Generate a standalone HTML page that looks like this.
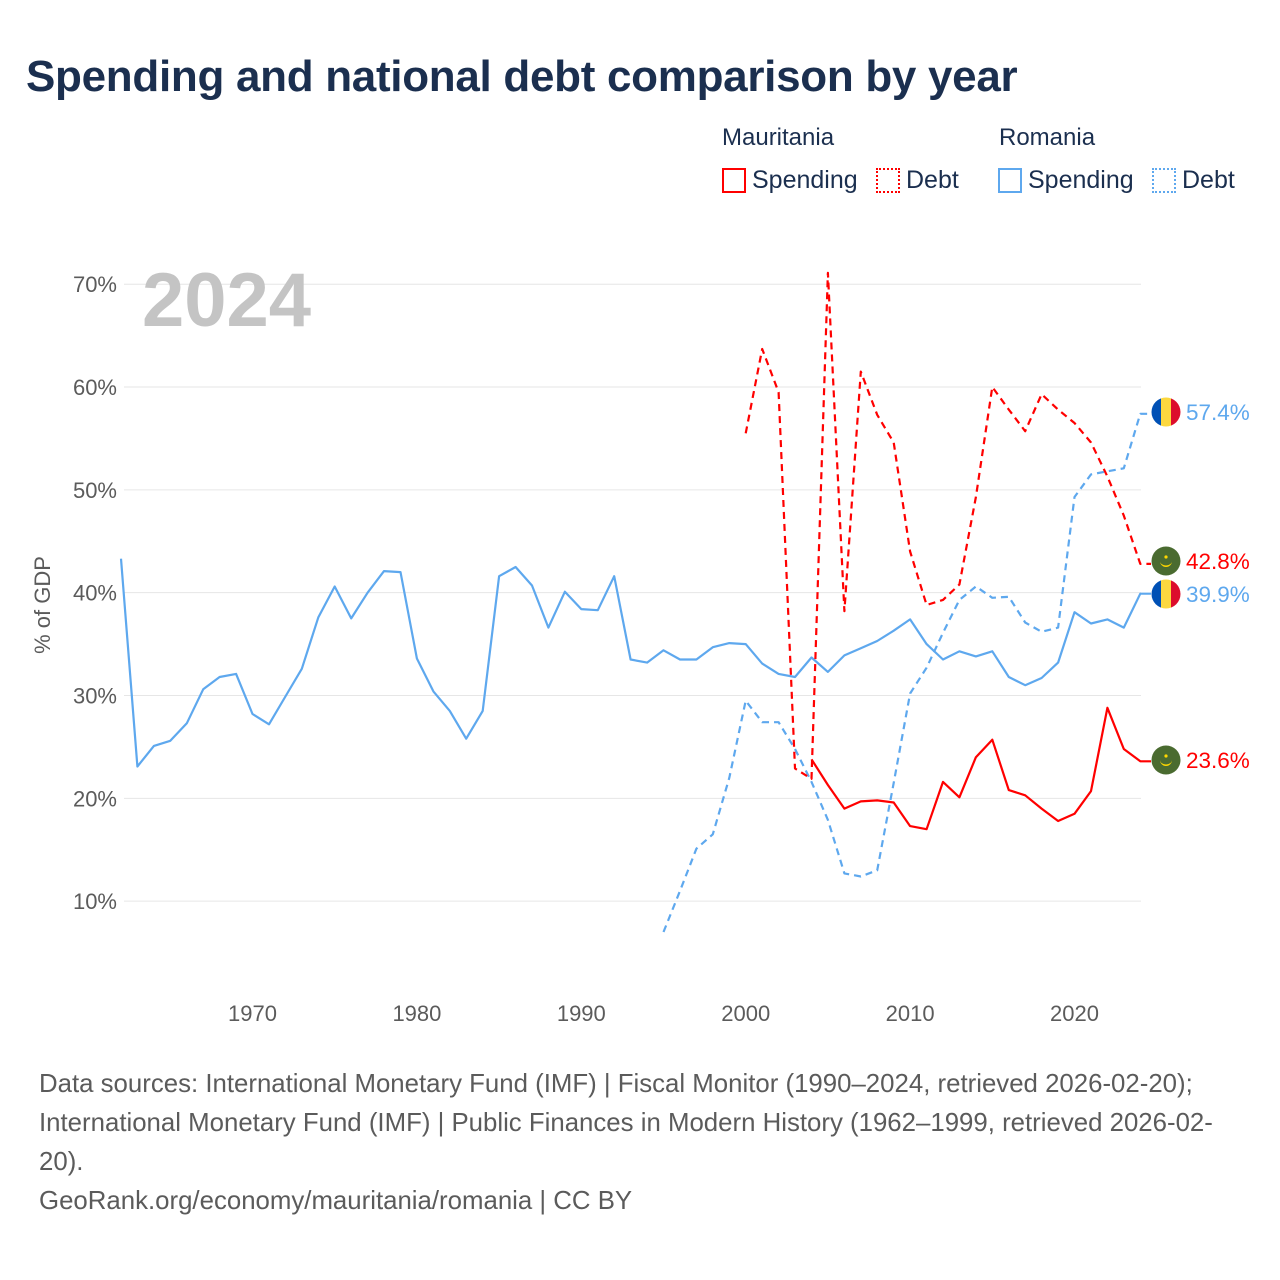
<!DOCTYPE html>
<html><head><meta charset="utf-8">
<style>
body{margin:0;background:#fff;width:1280px;height:1280px;overflow:hidden;font-family:"Liberation Sans",sans-serif;}
.t{position:absolute;white-space:nowrap;}
</style></head>
<body>
<div class="t" style="left:26px;top:52px;font-size:44px;font-weight:bold;color:#1b2f4f;letter-spacing:-0.3px;">Spending and national debt comparison by year</div>
<div class="t" style="left:722px;top:124px;font-size:24px;color:#1b2f4f;">Mauritania</div>
<div class="t" style="left:999px;top:124px;font-size:24px;color:#1b2f4f;">Romania</div>
<div class="t" style="left:722px;top:166px;font-size:25px;color:#1b2f4f;"><span style="display:inline-block;width:20px;height:21px;border:2px solid #f00;vertical-align:-5px;margin-right:6px;"></span>Spending</div>
<div class="t" style="left:876px;top:166px;font-size:25px;color:#1b2f4f;"><span style="display:inline-block;width:20px;height:21px;border:2px dotted #f00;vertical-align:-5px;margin-right:6px;"></span>Debt</div>
<div class="t" style="left:998px;top:166px;font-size:25px;color:#1b2f4f;"><span style="display:inline-block;width:20px;height:21px;border:2px solid #5ea8ee;vertical-align:-5px;margin-right:6px;"></span>Spending</div>
<div class="t" style="left:1152px;top:166px;font-size:25px;color:#1b2f4f;"><span style="display:inline-block;width:20px;height:21px;border:2px dotted #5ea8ee;vertical-align:-5px;margin-right:6px;"></span>Debt</div>

<svg id="chart" width="1280" height="1280" style="position:absolute;left:0;top:0;" xmlns="http://www.w3.org/2000/svg"></svg>

<div class="t" style="left:39px;top:1065px;font-size:25.8px;line-height:39px;color:#5b5b5b;">Data sources: International Monetary Fund (IMF) | Fiscal Monitor (1990–2024, retrieved 2026-02-20);<br>International Monetary Fund (IMF) | Public Finances in Modern History (1962–1999, retrieved 2026-02-<br>20).<br>GeoRank.org/economy/mauritania/romania | CC BY</div>

<script>
const yTicks = [10,20,30,40,50,60,70];
const xTicks = [1970,1980,1990,2000,2010,2020];
const roSpendYears = [1962,1963,1964,1965,1966,1967,1968,1969,1970,1971,1972,1973,1974,1975,1976,1977,1978,1979,1980,1981,1982,1983,1984,1985,1986,1987,1988,1989,1990,1991,1992,1993,1994,1995,1996,1997,1998,1999,2000,2001,2002,2003,2004,2005,2006,2007,2008,2009,2010,2011,2012,2013,2014,2015,2016,2017,2018,2019,2020,2021,2022,2023,2024];
const roSpend = [43.3,23.1,25.1,25.6,27.3,30.6,31.8,32.1,28.2,27.2,29.9,32.6,37.6,40.6,37.5,40.0,42.1,42.0,33.6,30.4,28.5,25.8,28.5,41.6,42.5,40.7,36.6,40.1,38.4,38.3,41.6,33.5,33.2,34.4,33.5,33.5,34.7,35.1,35.0,33.1,32.1,31.8,33.7,32.3,33.9,34.6,35.3,36.3,37.4,35.0,33.5,34.3,33.8,34.3,31.8,31.0,31.7,33.2,38.1,37.0,37.4,36.6,39.9];
const roDebtYears = [1995,1996,1997,1998,1999,2000,2001,2002,2003,2004,2005,2006,2007,2008,2009,2010,2011,2012,2013,2014,2015,2016,2017,2018,2019,2020,2021,2022,2023,2024];
const roDebt = [7.0,11.0,15.1,16.5,22.0,29.5,27.4,27.4,24.8,21.6,17.9,12.7,12.4,13.0,21.5,30.2,32.7,36.1,39.3,40.6,39.5,39.6,37.1,36.2,36.6,49.3,51.5,51.8,52.1,57.4];
const mrSpendYears = [2004,2005,2006,2007,2008,2009,2010,2011,2012,2013,2014,2015,2016,2017,2018,2019,2020,2021,2022,2023,2024];
const mrSpend = [23.8,21.3,19.0,19.7,19.8,19.6,17.3,17.0,21.6,20.1,24.0,25.7,20.8,20.3,19.0,17.8,18.5,20.7,28.8,24.8,23.6];
const mrDebtYears = [2000,2001,2002,2003,2004,2005,2006,2007,2008,2009,2010,2011,2012,2013,2014,2015,2016,2017,2018,2019,2020,2021,2022,2023,2024];
const mrDebt = [55.5,63.7,59.5,22.9,21.9,71.1,38.2,61.5,57.3,54.6,44.0,38.8,39.3,40.8,49.3,60.0,57.8,55.7,59.3,57.8,56.5,54.6,51.3,47.5,42.8];

const NS='http://www.w3.org/2000/svg';
const svg=document.getElementById('chart');
const X=yr=>121+(yr-1962)*16.44;
const Y=v=>1004-v*10.283;
function mk(tag,attrs,parent){const e=document.createElementNS(NS,tag);for(const k in attrs)e.setAttribute(k,attrs[k]);(parent||svg).appendChild(e);return e;}

yTicks.forEach(v=>{
  const g=mk('line',{x1:124,x2:1141,y1:Y(v),y2:Y(v),stroke:'#e6e6e6','stroke-width':1});
  
  
  const t=mk('text',{x:117,y:Y(v)+8,'text-anchor':'end','font-size':22,fill:'#5b5b5b','font-family':'Liberation Sans, sans-serif'});
  t.textContent=v+'%';
  
  
});
xTicks.forEach(yr=>{
  const t=mk('text',{x:X(yr),y:1021,'text-anchor':'middle','font-size':22,fill:'#5b5b5b','font-family':'Liberation Sans, sans-serif'});
  t.textContent=yr;
  
  
});
const yt=mk('text',{x:0,y:0,transform:'translate(50,605) rotate(-90)','text-anchor':'middle','font-size':22,fill:'#5b5b5b','font-family':'Liberation Sans, sans-serif'});
yt.textContent='% of GDP';


const yr=mk('text',{x:142,y:326,'font-size':76,'font-weight':'bold',fill:'#c4c4c4','font-family':'Liberation Sans, sans-serif'});
yr.textContent='2024';



function series(years,vals,color,dash,name){
  const last=vals[vals.length-1];
  const d=years.map((y,i)=>(i?'L':'M')+X(y).toFixed(1)+','+Y(vals[i]).toFixed(1)).join(' ')+' L1151,'+Y(last).toFixed(1);
  const p=mk('path',{d:d,fill:'none',stroke:color,'stroke-width':2.2,'stroke-linejoin':'round'});
  if(dash)p.setAttribute('stroke-dasharray','7,5');
  
  
}
series(roSpendYears,roSpend,'#5ea8ee',false,'romania-spending-line');
series(roDebtYears,roDebt,'#5ea8ee',true,'romania-debt-line');
series(mrSpendYears,mrSpend,'#ff0000',false,'mauritania-spending-line');
series(mrDebtYears,mrDebt,'#ff0000',true,'mauritania-debt-line');

function roFlag(cy,name){
  const g=mk('g',{});
  
  
  const cp=mk('clipPath',{id:name+'-clip'},g);
  mk('circle',{cx:1166,cy:cy,r:14.5},cp);
  const h=mk('g',{'clip-path':'url(#'+name+'-clip)'},g);
  mk('rect',{x:1151,y:cy-15,width:10,height:30,fill:'#0050b5'},h);
  mk('rect',{x:1161,y:cy-15,width:10,height:30,fill:'#fcd83f'},h);
  mk('rect',{x:1171,y:cy-15,width:10,height:30,fill:'#dc0d2c'},h);
}
function mrFlag(cy,name){
  const g=mk('g',{});
  
  
  mk('circle',{cx:1166,cy:cy,r:14.5,fill:'#4a6b30'},g);
  mk('path',{d:`M1160,${cy} A6,6 0 0 0 1172,${cy} A6,4.5 0 0 1 1160,${cy}Z`,fill:'#ffd700'},g);
  mk('circle',{cx:1166,cy:cy-4,r:1.6,fill:'#ffd700'},g);
}
const ends=[[roDebt,roDebt[roDebt.length-1],'#5ea8ee','ro'],[mrDebt,mrDebt[mrDebt.length-1],'#ff0000','mr'],[roSpend,roSpend[roSpend.length-1],'#5ea8ee','ro'],[mrSpend,mrSpend[mrSpend.length-1],'#ff0000','mr']];
const names=['romania-debt','mauritania-debt','romania-spending','mauritania-spending'];
const labelY=[412,561,594,760];
ends.forEach((e,i)=>{
  const cy=labelY[i];
  if(e[3]==='ro')roFlag(cy,names[i]+'-flag');else mrFlag(cy,names[i]+'-flag');
  const t=mk('text',{x:1186,y:cy+8,'font-size':22.5,fill:e[2],'font-family':'Liberation Sans, sans-serif'});
  t.textContent=e[1].toFixed(1)+'%';
  
  
});
</script>
</body></html>
